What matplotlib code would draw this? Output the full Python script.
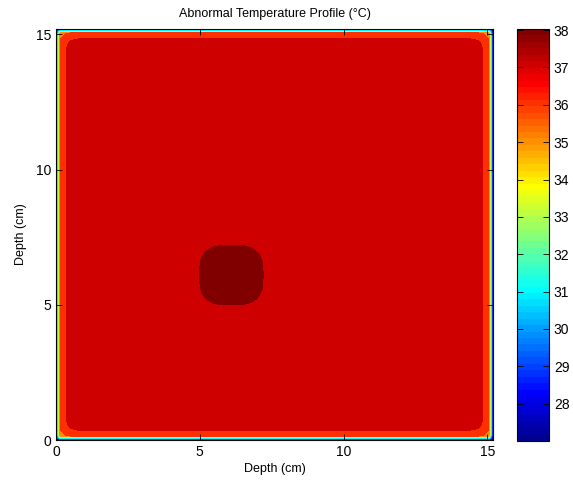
import matplotlib
matplotlib.use("Agg")
import matplotlib.pyplot as plt
import numpy as np
from matplotlib.colors import ListedColormap, Normalize
from matplotlib.cm import ScalarMappable

plt.rcParams['font.family'] = ['Liberation Sans', 'DejaVu Sans']

# domain size and temperatures
width_cm = 15.2
t_boundary = 27.0
t_core = 37.1

# temperature vs depth below one surface (where the bands sit)
depth_knots = [0.0, 0.14, 0.35, 0.5, 0.7, 1.0]
temp_knots = [27.0, 36.0, 37.0, 37.06, 37.09, 37.1]

# tumour hot spot
tumor_center = [6.1, 6.1]
tumor_rise = 0.93
tumor_size = 3.44   # cm, superellipse scale
tumor_power = 3

levels = [27, 28, 29, 30, 31, 32, 33, 34, 35, 36, 37, 38]
axis_ticks = [0, 5, 10, 15]
cbar_ticks = [28, 29, 30, 31, 32, 33, 34, 35, 36, 37, 38]


def matlab_jet(m=64):
    n = int(np.ceil(m / 4))
    u = np.concatenate([np.arange(1, n + 1) / n, np.ones(n - 1), np.arange(n, 0, -1) / n])
    g = int(np.ceil(n / 2)) - (m % 4 == 1) + np.arange(1, len(u) + 1)
    r = g + n
    b = g - n
    g = g[g <= m]
    r = r[r <= m]
    b = b[b >= 1]
    J = np.zeros((m, 3))
    J[r - 1, 0] = u[:len(r)]
    J[g - 1, 1] = u[:len(g)]
    J[b - 1, 2] = u[len(u) - len(b):]
    return J


# grid, finer near the surfaces
edge = np.linspace(0, 1.6, 401)
mid = np.linspace(1.6, width_cm - 1.6, 241)
x = np.unique(np.concatenate([edge, mid, width_cm - edge]))
X, Y = np.meshgrid(x, x)

prof = np.ones_like(X)
for d in [X, Y, width_cm - X, width_cm - Y]:
    t = np.interp(d, depth_knots, temp_knots)
    prof *= (t - t_boundary) / (t_core - t_boundary)
T = t_boundary + (t_core - t_boundary) * prof

u = np.abs(X - tumor_center[0]) / tumor_size
v = np.abs(Y - tumor_center[1]) / tumor_size
T += tumor_rise * np.exp(-(u ** tumor_power + v ** tumor_power))

cmap = ListedColormap(matlab_jet(64))
norm = Normalize(T.min(), T.max())
lv = levels + [T.max() + 1e-6]
band_colors = [cmap(norm(l)) for l in levels]

fig = plt.figure(figsize=(5.73, 4.86), dpi=100)
ax = fig.add_axes([56 / 573, 46 / 486, 437 / 573, 411 / 486])
ax.contourf(X, Y, T, levels=lv, colors=band_colors, antialiased=False)
ax.set_xlim(0, width_cm)
ax.set_ylim(0, width_cm)
ax.set_xticks(axis_ticks)
ax.set_yticks(axis_ticks)
ax.tick_params(direction='in', top=True, right=True, length=4, width=0.6, labelsize=10)
for s in ax.spines.values():
    s.set_linewidth(0.8)
ax.set_xlabel('Depth (cm)', fontsize=9, labelpad=3)
ax.set_ylabel('Depth (cm)', fontsize=9, labelpad=6)
ax.set_title('Abnormal Temperature Profile (°C)', fontsize=9, pad=9)

cax = fig.add_axes([517 / 573, 45 / 486, 32 / 573, 412 / 486])
cb = fig.colorbar(ScalarMappable(norm=norm, cmap=cmap), cax=cax, ticks=cbar_ticks)
cb.outline.set_linewidth(0.8)
cax.tick_params(direction='in', left=True, right=True, length=4, width=0.6, labelsize=10)

fig.savefig('out.png', dpi=100)
